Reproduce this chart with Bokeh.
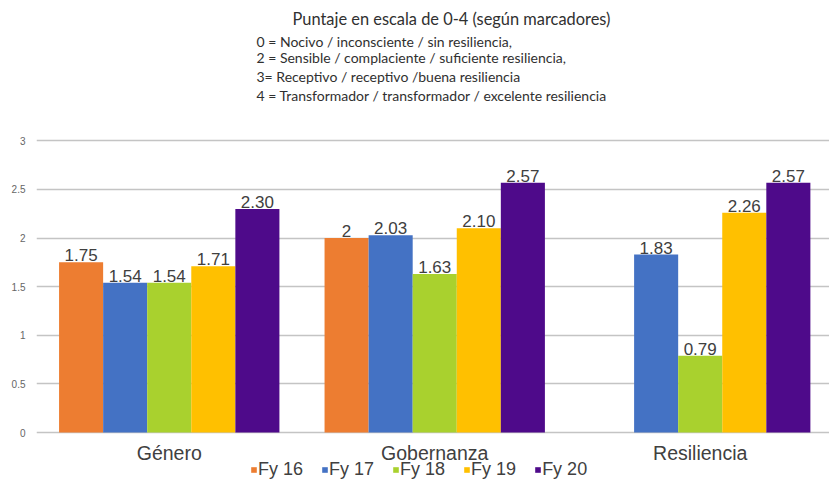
from bokeh.plotting import figure
from bokeh.models import (ColumnDataSource, LabelSet, Legend, LegendItem, Range1d,
                          FixedTicker, Title)
from bokeh.core.properties import value
from bokeh.embed import file_html
from bokeh.resources import INLINE

categories = ["Género", "Gobernanza", "Resiliencia"]
series_names = ["Fy 16", "Fy 17", "Fy 18", "Fy 19", "Fy 20"]
fy16 = [1.75, 2.00, None]
fy17 = [1.54, 2.03, 1.83]
fy18 = [1.54, 1.63, 0.79]
fy19 = [1.71, 2.10, 2.26]
fy20 = [2.30, 2.57, 2.57]
value_labels = [
    ["1.75", "2", ""],
    ["1.54", "2.03", "1.83"],
    ["1.54", "1.63", "0.79"],
    ["1.71", "2.10", "2.26"],
    ["2.30", "2.57", "2.57"],
]
y_ticks = [0, 0.5, 1, 1.5, 2, 2.5, 3]
colors = ["#ED7D31", "#4472C4", "#A9D12E", "#FFC000", "#4E0A8A"]
title_text = "Puntaje en escala de 0-4 (según marcadores)"
subtitle_lines = [
    "0 = Nocivo / inconsciente / sin resiliencia,",
    "2 = Sensible / complaciente / suficiente resiliencia,",
    "3=  Receptivo / receptivo /buena resiliencia",
    "4 = Transformador / transformador / excelente resiliencia",
]

series = [fy16, fy17, fy18, fy19, fy20]
cat_pos = [i + 0.5 for i in range(len(categories))]

p = figure(width=829, height=482, output_backend="svg",
           toolbar_location=None, min_border_left=36, min_border_right=0,
           min_border_top=0, min_border_bottom=0)
p.x_range = Range1d(0, 2.987)
p.y_range = Range1d(-0.514, 3.384)
p.outline_line_color = None
p.background_fill_color = "white"
p.border_fill_color = "white"

bw = 0.166
offsets = [-2 * bw, -bw, 0, bw, 2 * bw]
items = []
for i, (vals, name, col) in enumerate(zip(series, series_names, colors)):
    xs = [c + offsets[i] for c, v in zip(cat_pos, vals) if v is not None]
    ys = [v for v in vals if v is not None]
    labs = [l for l, v in zip(value_labels[i], vals) if v is not None]
    src = ColumnDataSource(dict(x=xs, top=ys, lab=labs))
    r = p.vbar(x="x", top="top", width=bw, source=src,
               fill_color=col, line_color=None)
    items.append(LegendItem(label=name, renderers=[r]))
    ls = LabelSet(x="x", y="top", text="lab", source=src,
                  text_align="center", text_baseline="bottom", y_offset=1,
                  text_font=value("Liberation Sans"), text_font_size="17px",
                  text_color="#404040", background_fill_color="white")
    p.add_layout(ls)

# category labels drawn inside the frame, below the baseline
cat_src = ColumnDataSource(dict(x=cat_pos, y=[0] * len(cat_pos), t=categories))
p.add_layout(LabelSet(x="x", y="y", text="t", source=cat_src, text_align="center",
                      text_baseline="middle", y_offset=-20,
                      text_font=value("Liberation Sans"), text_font_size="19.5px",
                      text_color="#404040"))

p.yaxis.ticker = FixedTicker(ticks=y_ticks)
p.yaxis.axis_line_color = None
p.yaxis.major_tick_line_color = None
p.yaxis.minor_tick_line_color = None
p.yaxis.major_label_text_font_size = "10px"
p.yaxis.major_label_text_color = "#666666"
p.yaxis.major_label_standoff = 5
p.xaxis.visible = False

p.xgrid.grid_line_color = None
p.ygrid.ticker = FixedTicker(ticks=y_ticks)
p.ygrid.grid_line_color = "#c4c4c4"
p.ygrid.grid_line_width = 1.5

for k, t in enumerate(reversed(subtitle_lines)):
    p.add_layout(Title(text=t, align="left", offset=220, text_font="Lato",
                       text_font_size="14px", text_font_style="normal",
                       text_color="#303030", standoff=(-7 if k == 3 else 0)), "above")
p.add_layout(Title(text=title_text, align="left", offset=256, text_font="Lato",
                   text_font_size="16.4px", text_font_style="normal",
                   text_color="#303030", standoff=13), "above")

legend = Legend(items=items, orientation="horizontal", location=(214, 2),
                glyph_width=7, glyph_height=7, label_standoff=1, spacing=18,
                padding=0, margin=0, border_line_color=None, background_fill_alpha=0,
                label_text_font="Liberation Sans", label_text_font_size="18px",
                label_text_color="#404040", label_height=18)
p.add_layout(legend)

open("out.html", "w").write(file_html(p, INLINE))
